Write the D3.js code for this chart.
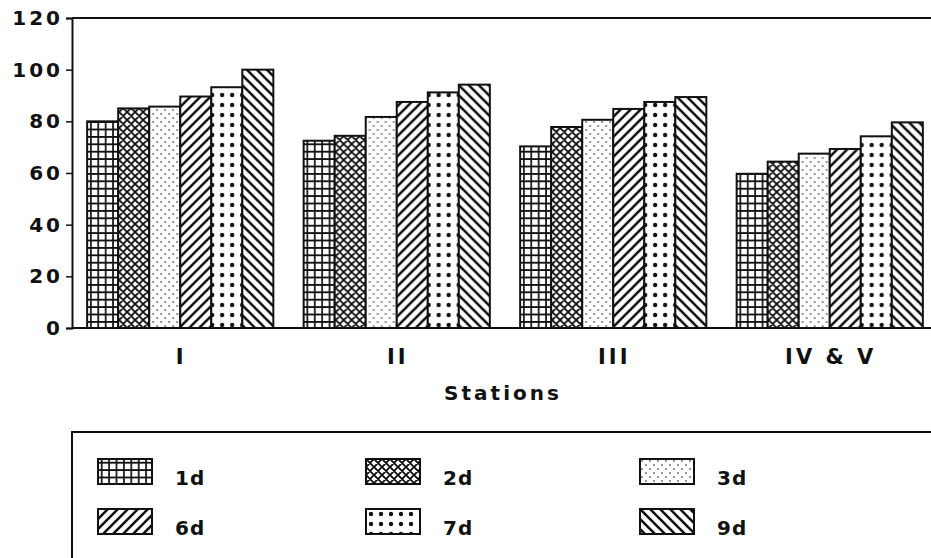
<!DOCTYPE html>
<html>
<head>
<meta charset="utf-8">
<script src="https://cdn.jsdelivr.net/npm/d3@7/dist/d3.min.js"></script>
<style>
  html, body { margin: 0; padding: 0; background: #fff; }
  svg { display: block; }
  text { font-family: "DejaVu Sans", sans-serif; font-weight: bold; fill: #111; }
</style>
</head>
<body>
<svg id="chart" width="931" height="558"></svg>
<script>
// Stations along the x axis
const stations = ["I", "II", "III", "IV & V"];
// Exposure durations (one bar per station each)
const durations = ["1d", "2d", "3d", "6d", "7d", "9d"];
// Percent values per duration, in station order
const v1d = [80, 72.5, 70.3, 59.7];
const v2d = [85, 74.4, 77.8, 64.4];
const v3d = [85.7, 81.7, 80.6, 67.5];
const v6d = [89.6, 87.5, 84.8, 69.3];
const v7d = [93.2, 91.2, 87.5, 74.2];
const v9d = [100, 94.2, 89.4, 79.6];
const yTicks = [0, 20, 40, 60, 80, 100, 120];
const xTitle = "Stations";

const seriesValues = [v1d, v2d, v3d, v6d, v7d, v9d];

(function () {
  const svg = d3.select("#chart");
  const W = 931, H = 558;
  const mLeft = 72, mTop = 18, mBottom = 328;

  const defs = svg.append("defs");
  const ink = "#111";

  // Fill patterns, one per duration
  function pat(id, w, h, draw) {
    const p = defs.append("pattern").attr("id", id)
      .attr("patternUnits", "userSpaceOnUse").attr("width", w).attr("height", h);
    p.append("rect").attr("width", w).attr("height", h).attr("fill", "#fff");
    draw(p);
  }
  // square grid
  pat("p1d", 7.4, 7.4, p => {
    p.append("path").attr("d", "M0,3.7H7.4M3.7,0V7.4").attr("stroke", ink).attr("stroke-width", 1.7);
  });
  // diagonal crosshatch (net of round white holes)
  pat("p2d", 8, 8, p => {
    p.append("path").attr("d", "M-2,-2L10,10M-2,6L2,10M6,-2L10,2M-2,10L10,-2M-2,2L2,-2M6,10L10,6")
      .attr("stroke", ink).attr("stroke-width", 1.9);
  });
  // fine sparse dots
  pat("p3d", 8, 8, p => {
    p.append("circle").attr("cx", 2).attr("cy", 2).attr("r", 0.8).attr("fill", ink);
    p.append("circle").attr("cx", 6).attr("cy", 6).attr("r", 0.8).attr("fill", ink);
  });
  // forward diagonal lines
  pat("p6d", 10, 10, p => {
    p.append("path").attr("d", "M-2,12L12,-2M-7,7L7,-7M3,17L17,3")
      .attr("stroke", ink).attr("stroke-width", 2.6);
  });
  // large dots on a square grid
  pat("p7d", 10, 10, p => {
    p.append("circle").attr("cx", 5).attr("cy", 5).attr("r", 2.2).attr("fill", ink);
  });
  // backward diagonal lines
  pat("p9d", 10, 10, p => {
    p.append("path").attr("d", "M-2,-2L12,12M-7,3L7,17M3,-7L17,7")
      .attr("stroke", ink).attr("stroke-width", 2.6);
  });

  const fills = durations.map(d => "url(#p" + d + ")");

  const y = d3.scaleLinear().domain([0, 120]).range([mBottom, mTop]);
  const x0 = d3.scaleBand().domain(stations).range([mLeft, 938]).paddingInner(0.14).paddingOuter(0.07);
  const x1 = d3.scaleBand().domain(durations).range([0, x0.bandwidth()]);

  // bars
  const groups = svg.append("g").selectAll("g").data(stations).join("g")
    .attr("transform", s => `translate(${x0(s)},0)`);
  groups.selectAll("rect")
    .data((s, si) => durations.map((d, di) => ({ d, di, v: seriesValues[di][si] })))
    .join("rect")
    .attr("x", o => x1(o.d))
    .attr("y", o => y(o.v))
    .attr("width", x1.bandwidth())
    .attr("height", o => mBottom - y(o.v))
    .attr("fill", o => fills[o.di])
    .attr("stroke", ink).attr("stroke-width", 2);

  // frame lines
  svg.append("line").attr("x1", mLeft).attr("x2", W).attr("y1", mTop).attr("y2", mTop)
    .attr("stroke", ink).attr("stroke-width", 2);
  svg.append("line").attr("x1", mLeft).attr("x2", W).attr("y1", mBottom).attr("y2", mBottom)
    .attr("stroke", ink).attr("stroke-width", 2);

  // y axis
  const yAxis = svg.append("g").attr("transform", `translate(${mLeft},0)`)
    .call(d3.axisLeft(y).tickValues(yTicks).tickSize(6).tickPadding(6));
  yAxis.select(".domain").attr("stroke", ink).attr("stroke-width", 2);
  yAxis.selectAll(".tick line").attr("stroke", ink).attr("stroke-width", 1.5);
  yAxis.selectAll(".tick text").attr("font-size", 20).attr("letter-spacing", 3)
    .attr("dx", 3).attr("fill", ink)
    .style("font-family", '"DejaVu Sans", sans-serif').style("font-weight", "bold");

  // x labels
  svg.append("g").selectAll("text").data(stations).join("text")
    .attr("x", s => x0(s) + x0.bandwidth() / 2 + 1)
    .attr("y", 364)
    .attr("text-anchor", "middle")
    .attr("font-size", 21).attr("letter-spacing", 3)
    .text(s => s);

  svg.append("text").attr("x", 503).attr("y", 400).attr("text-anchor", "middle")
    .attr("font-size", 20).attr("letter-spacing", 3).text(xTitle);

  // legend box (open on right and bottom)
  const legTop = 432;
  svg.append("path").attr("d", `M${W},${legTop}H${mLeft}V${H}`)
    .attr("fill", "none").attr("stroke", ink).attr("stroke-width", 2);

  const colX = [98, 366, 640];
  const rowY = [459, 509];
  const leg = svg.append("g").selectAll("g").data(durations).join("g")
    .attr("transform", (d, i) => `translate(${colX[i % 3]},${rowY[Math.floor(i / 3)]})`);
  leg.append("rect").attr("width", 54).attr("height", 25)
    .attr("fill", (d, i) => fills[i]).attr("stroke", ink).attr("stroke-width", 2);
  leg.append("text").attr("x", 77).attr("y", 26).attr("font-size", 20).attr("letter-spacing", 1)
    .text(d => d);
})();
</script>
</body>
</html>
